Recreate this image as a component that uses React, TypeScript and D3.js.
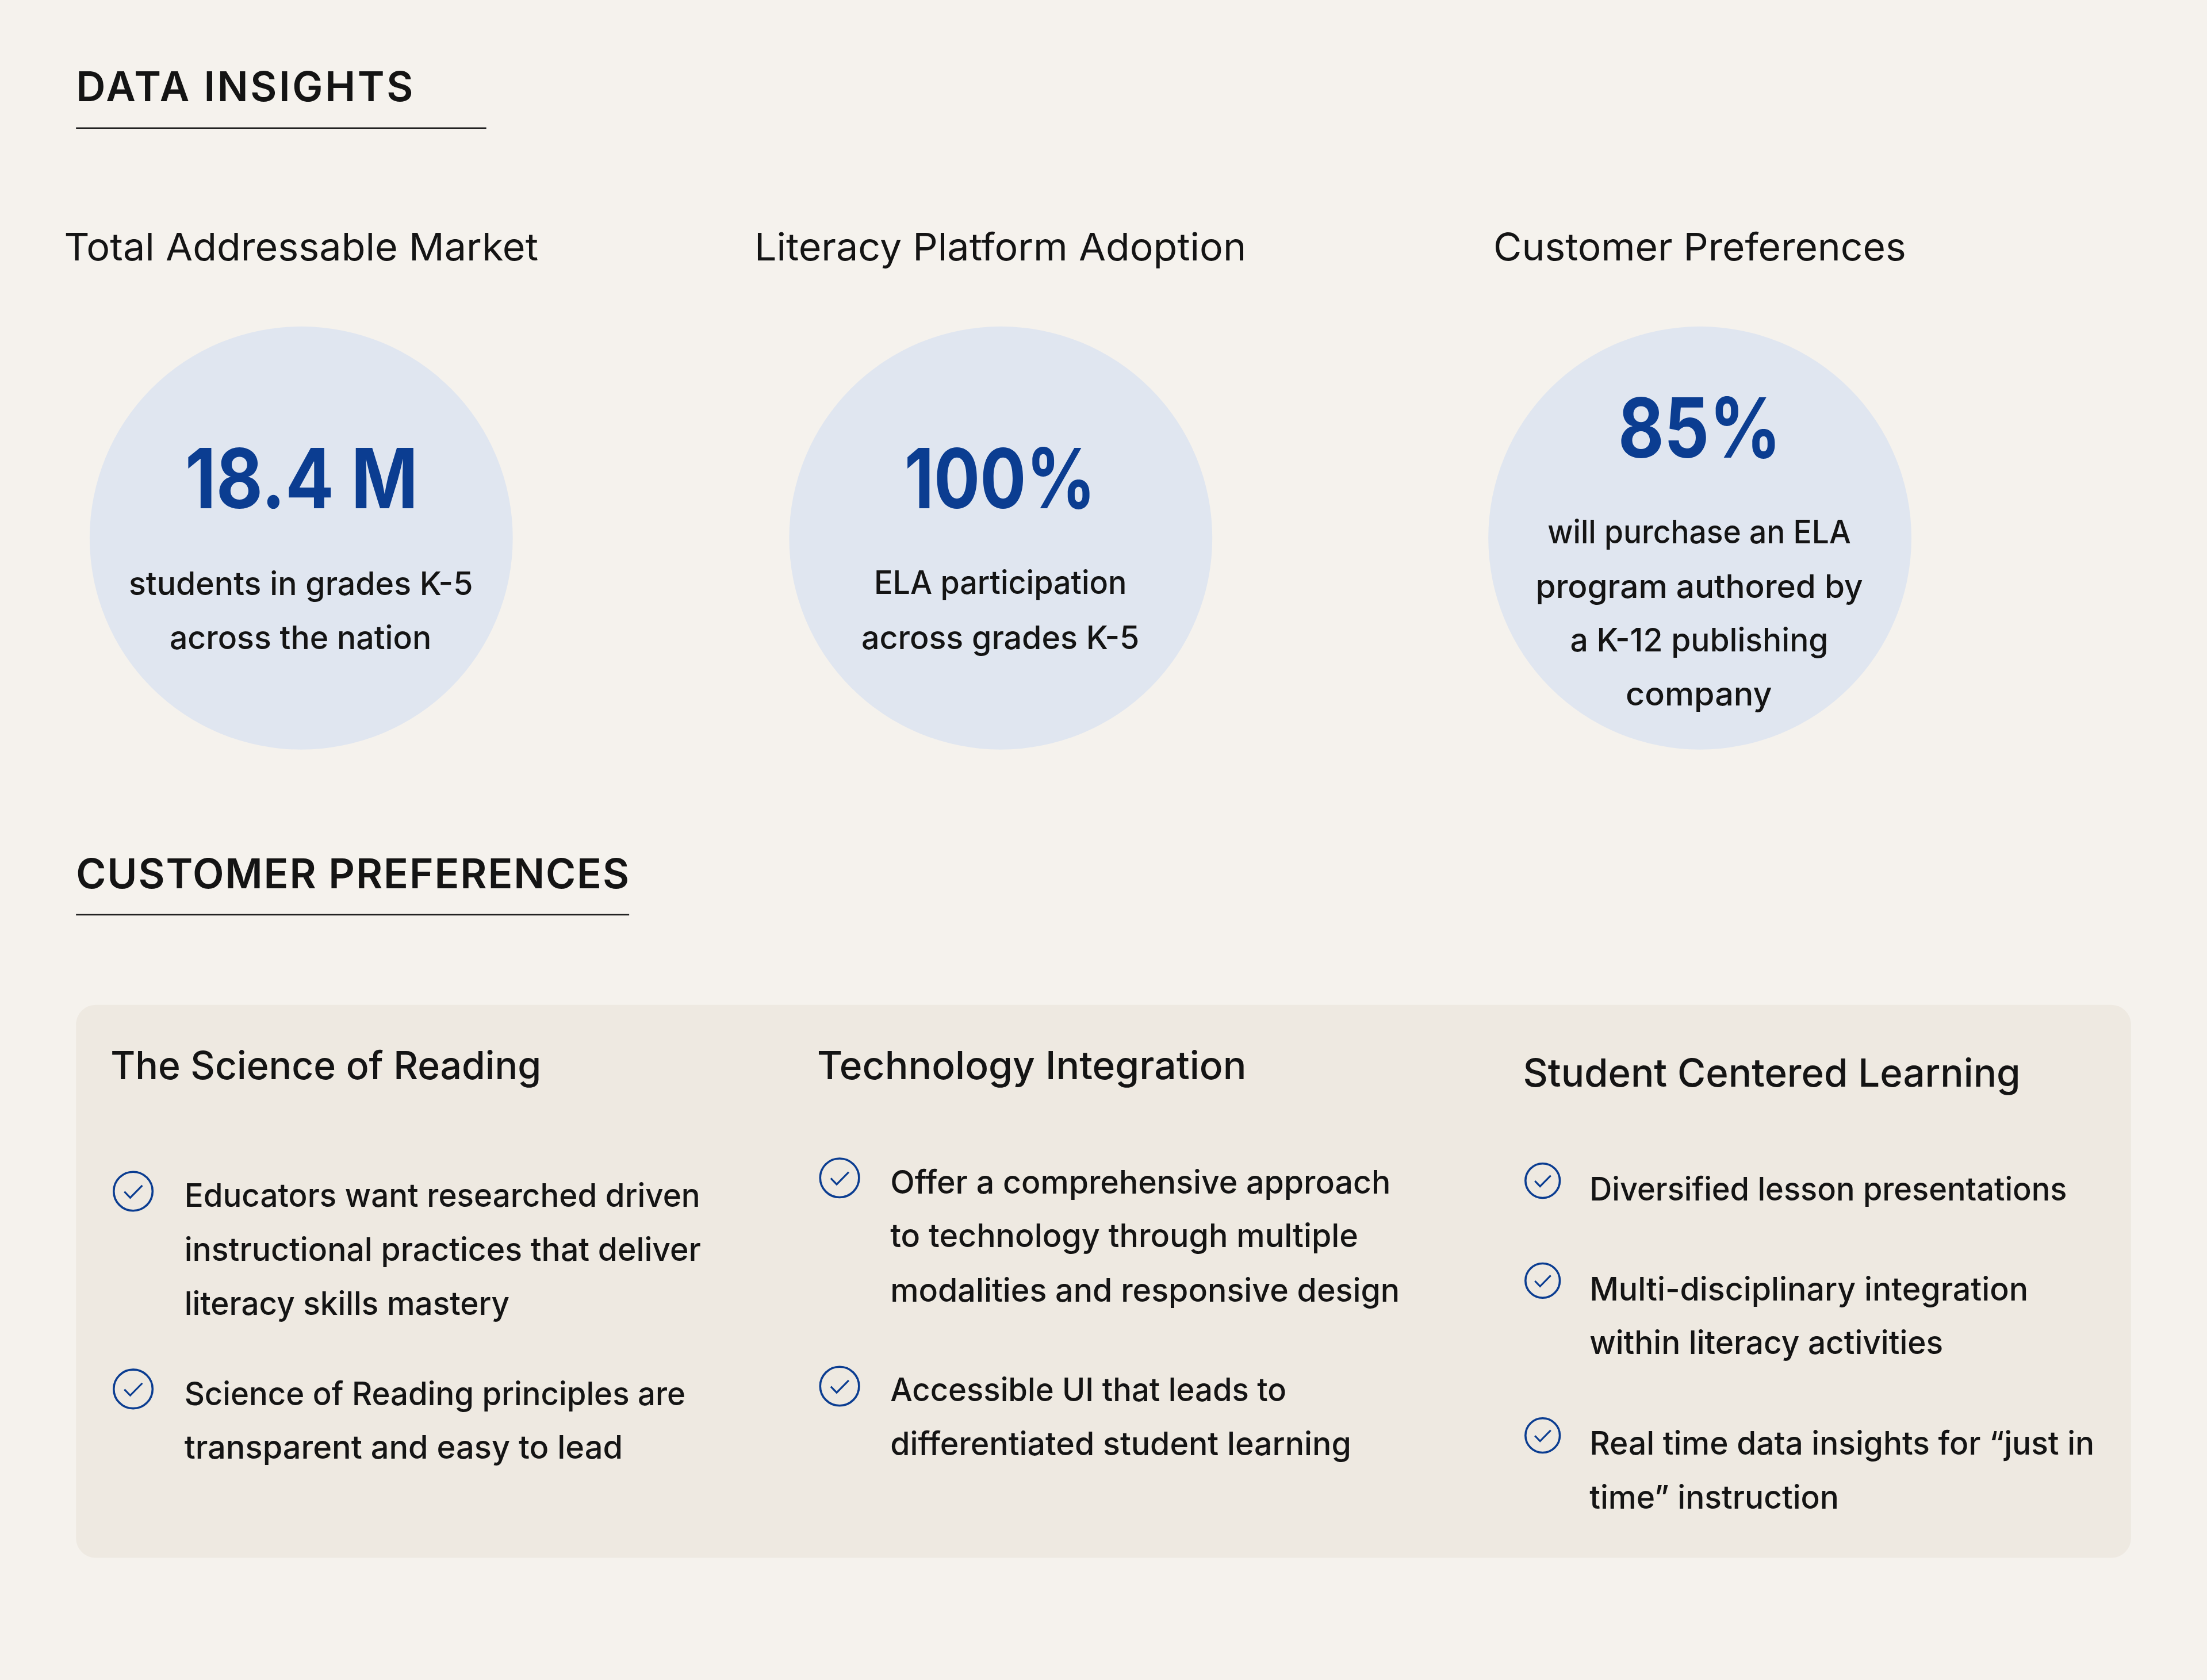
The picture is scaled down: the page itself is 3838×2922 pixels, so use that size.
import React from "react";
import * as d3 from "d3";

// ---------- data ----------
const sectionHeads = ["DATA INSIGHTS", "CUSTOMER PREFERENCES"];
const metricTitles = ["Total Addressable Market", "Literacy Platform Adoption", "Customer Preferences"];
const metricValues = ["18.4 M", "100%", "85%"];
const metricNotes = [
  ["students in grades K-5", "across the nation"],
  ["ELA participation", "across grades K-5"],
  ["will purchase an ELA", "program authored by", "a K-12 publishing", "company"],
];
const prefTitles = ["The Science of Reading", "Technology Integration", "Student Centered Learning"];
const prefItems = [
  [
    ["Educators want researched driven", "instructional practices that deliver", "literacy skills mastery"],
    ["Science of Reading principles are", "transparent and easy to lead"],
  ],
  [
    ["Offer a comprehensive approach", "to technology through multiple", "modalities and responsive design"],
    ["Accessible UI that leads to", "differentiated student learning"],
  ],
  [
    ["Diversified lesson presentations"],
    ["Multi-disciplinary integration", "within literacy activities"],
    ["Real time data insights for “just in", "time” instruction"],
  ],
];

// ---------- layout (in reference-preview units, mapped by the scale below) ----------
const W = 3838, H = 2922;
const s = d3.scaleLinear().domain([0, 1568]).range([0, W]);
const k = (v: number) => s(v);
const FONT = "Inter, 'Noto Sans', sans-serif";
const INK = "#141414", BLUE = "#0b3d91", BG = "#f5f2ed", PANEL = "#eee9e1", DISC = "#e0e6f0";

const headLayout = [
  { x: 54, x2: 293.5, y: 72, rule: 345.5, ruleY: 91 },
  { x: 54, x2: 447, y: 631, rule: 447, ruleY: 650 },
];
const circleCx = [214, 711, 1207.7];
const circleCy = 382.3, circleR = 150.3;
const titleSpan = [[45.6, 382.4], [536, 885.4], [1061, 1354.2]];
const valueSpan = [[131.5, 297, 361], [642.5, 778.5, 361], [1149.5, 1265.5, 325]];
const noteSpan = [
  [[91.5, 336, 423], [120.5, 306.5, 461.3]],
  [[621, 800.5, 422], [612, 809.5, 461.3]],
  [[1099.5, 1315, 386], [1091, 1323.5, 425], [1115.5, 1299, 463], [1155, 1259, 501.3]],
];
const prefTitleSpan = [[78.5, 384.5, 767], [580.5, 885.5, 767], [1082, 1435.5, 772]];
const prefLineSpan = [
  [[[131, 497.5, 857.6], [131, 498, 896], [131, 362, 934.5]], [[131, 487, 998.5], [131, 442.5, 1036.5]]],
  [[[632.5, 988, 848], [632.5, 965, 886], [632.5, 994.5, 925]], [[632.5, 914, 995.6], [632.5, 960, 1034]]],
  [[[1129.3, 1468.5, 853]], [[1129.3, 1441, 924], [1129.3, 1380.5, 962.3]], [[1129.3, 1488, 1033.7], [1129.3, 1306.5, 1072]]],
];
const checkPos = [
  { x: 94.6, ys: [846.5, 987], r: 13.8 },
  { x: 596.5, ys: [837, 985], r: 13.8 },
  { x: 1096, ys: [839, 910, 1020], r: 12.2 },
];
const checkShape: [number, number][] = [[-0.45, 0.02], [-0.15, 0.33], [0.47, -0.3]];
const checkLine = d3.line();

function T({ str, span, y, size, weight = 500, fill = INK, adjust = "spacingAndGlyphs" }: any) {
  return (
    <text x={k(span[0])} y={k(y)} fontFamily={FONT} fontSize={k(size)} fontWeight={weight} fill={fill}
      textLength={k(span[1] - span[0])} lengthAdjust={adjust}>{str}</text>
  );
}

function Check({ cx, cy, r }: any) {
  const R = k(r);
  const d = checkLine(checkShape.map(([a, b]) => [k(cx) + a * R, k(cy) + b * R] as [number, number]));
  return (
    <g fill="none" stroke={BLUE} strokeWidth={3.6}>
      <circle cx={k(cx)} cy={k(cy)} r={R} />
      <path d={d!} strokeWidth={3.2} />
    </g>
  );
}

export default function App() {
  return (
    <svg width={W} height={H} viewBox={`0 0 ${W} ${H}`} style={{ position: "absolute", left: 0, top: 0, display: "block" }}>
      <rect width={W} height={H} fill={BG} />
      {sectionHeads.map((h, i) => {
        const l = headLayout[i];
        return (
          <g key={h}>
            <T str={h} span={[l.x, l.x2]} y={l.y} size={29} weight={600} adjust="spacing" />
            <line x1={k(l.x)} x2={k(l.rule)} y1={k(l.ruleY)} y2={k(l.ruleY)} stroke="#222" strokeWidth={2.5} />
          </g>
        );
      })}
      {metricTitles.map((t, i) => (
        <g key={t}>
          <T str={t} span={titleSpan[i]} y={185} size={27} weight={430} />
          <circle cx={k(circleCx[i])} cy={k(circleCy)} r={k(circleR)} fill={DISC} />
          <T str={metricValues[i]} span={valueSpan[i]} y={valueSpan[i][2]} size={59} weight={700} fill={BLUE} />
          {metricNotes[i].map((n, j) => (
            <T key={n} str={n} span={noteSpan[i][j]} y={noteSpan[i][j][2]} size={23} />
          ))}
        </g>
      ))}
      <rect x={k(54)} y={k(714)} width={k(1460)} height={k(393)} rx={k(14)} fill={PANEL} />
      {prefTitles.map((t, i) => (
        <g key={t}>
          <T str={t} span={prefTitleSpan[i]} y={prefTitleSpan[i][2]} size={27.5} />
          {prefItems[i].map((item, j) => (
            <g key={j}>
              <Check cx={checkPos[i].x} cy={checkPos[i].ys[j]} r={checkPos[i].r} />
              {item.map((line, m) => (
                <T key={line} str={line} span={prefLineSpan[i][j][m]} y={prefLineSpan[i][j][m][2]} size={23} />
              ))}
            </g>
          ))}
        </g>
      ))}
    </svg>
  );
}
